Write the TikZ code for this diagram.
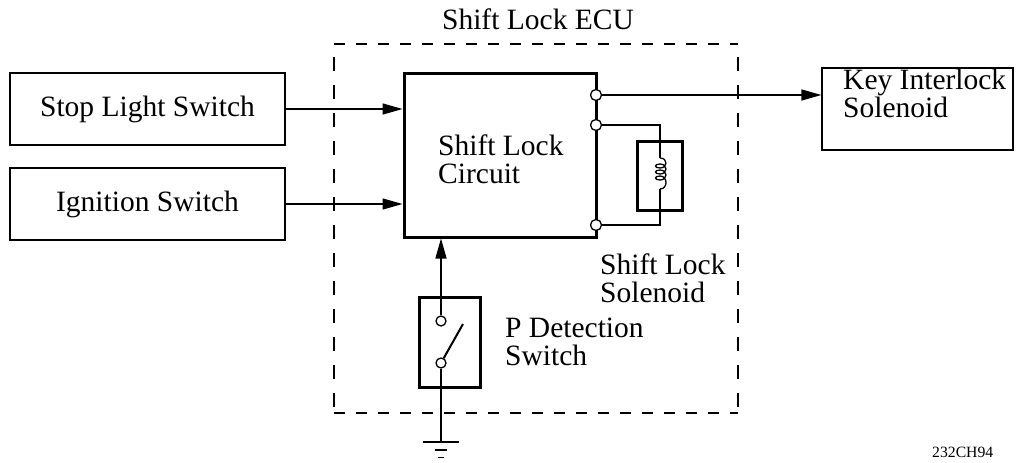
\documentclass[tikz,border=0pt]{standalone}
\usepackage{fontspec}
\setmainfont{Liberation Serif}
\usetikzlibrary{arrows.meta}
\begin{document}
\begin{tikzpicture}[x=1pt,y=-1pt,
  txt/.style={font=\fontsize{29.5}{28}\selectfont, inner sep=0pt, align=left},
  smalltxt/.style={font=\fontsize{15.7}{16}\selectfont, inner sep=0pt},
  thinbox/.style={draw, line width=1.3pt, inner sep=0pt},
  thickbox/.style={draw, line width=3pt, inner sep=0pt},
  wire/.style={line width=1.3pt},
  arr/.style={wire, -{Triangle[length=20pt,width=11pt]}},
  term/.style={circle, draw, line width=1.3pt, fill=white, minimum size=11pt, inner sep=0pt},
  ecu/.style={line width=1.3pt, dash pattern=on 11pt off 11pt}
]
\useasboundingbox (0,0) rectangle (1021,463);
% ECU dashed boundary
\coordinate (e1) at (334,44);
\coordinate (e2) at (738,44);
\coordinate (e3) at (738,413);
\coordinate (e4) at (334,413);
\draw[ecu] (e1) -- (e2);
\draw[ecu] (e4) -- (e3);
\draw[line width=1.3pt, dash pattern=on 14pt off 14pt, dash phase=-13pt] (e1) -- (e4);
\draw[line width=1.3pt, dash pattern=on 14pt off 14pt, dash phase=-13pt] (e2) -- (e3);
\node[txt, anchor=base] (ecuT) at (538,30) {Shift Lock ECU};

% outer boxes
\node[thinbox, minimum width=275pt, minimum height=72pt] (stop) at (147.5,109) {};
\node[txt] at (stop.center) {Stop Light Switch};
\node[thinbox, minimum width=275pt, minimum height=72pt] (ign) at (147.5,204) {};
\node[txt] at (ign.center) {Ignition Switch};
\node[thinbox, minimum width=191pt, minimum height=82pt] (key) at (917.5,109) {};
\node[txt, anchor=base west] (keyT) at (843,117) {Key Interlock\\Solenoid};

% shift lock circuit
\node[thickbox, minimum width=192pt, minimum height=164pt] (slc) at (500,155) {};
\node[txt, anchor=base west] (slcT) at (438,183) {Shift Lock\\Circuit};

% input arrows
\draw[arr] (stop.east |- 0,109) -- (slc.west |- 0,109);
\draw[arr] (ign.east |- 0,204) -- (slc.west |- 0,204);

% terminals on right
\node[term] (t1) at (596,95) {};
\node[term] (t2) at (596,125) {};
\node[term] (t3) at (596,225) {};
\draw[arr] (t1) -- (key.west |- t1);

% shift lock solenoid
\node[thickbox, minimum width=45pt, minimum height=69pt] (sol) at (659.5,175.5) {};
\coordinate (c1) at (660,125);
\coordinate (c2) at (660,225);
\coordinate (k1) at (660,158);
\coordinate (k2) at (660,189);
\draw[wire] (t2) -- (c1) -- (k1);
\draw[wire] (k2) -- (c2) -- (t3);
\draw[wire] (k1) .. controls (668,158) and (668,168) .. (660,168)
  .. controls (654,168) and (654,164) .. (660,164)
  .. controls (668,164) and (668,174) .. (660,174)
  .. controls (654,174) and (654,170) .. (660,170)
  .. controls (668,170) and (668,180) .. (660,180)
  .. controls (654,180) and (654,176) .. (660,176)
  .. controls (668,176) and (668,189) .. (k2);
\node[txt, anchor=base west] (solT) at (600,302) {Shift Lock\\Solenoid};

% P detection switch
\node[thickbox, minimum width=61pt, minimum height=90pt] (psw) at (449.5,342) {};
\node[term, minimum size=10pt] (p1) at (441,321) {};
\node[term, minimum size=10pt] (p2) at (441,363) {};
\coordinate (lev) at (463,324);
\draw[line width=2pt] (p2) -- (lev);
\draw[arr] (p1) -- (slc.south -| p1);
\node[txt, anchor=base west] (pT) at (505,365) {P Detection\\Switch};

% ground
\coordinate (g) at (441,442);
\draw[wire] (p2) -- (g);
\draw[line width=2pt] (423,442) -- (459,442);
\draw[line width=1.5pt] (435,450) -- (447,450);
\draw[line width=1.5pt] (438,457.5) -- (444,457.5);

\node[smalltxt, anchor=base west] (code) at (932,457) {232CH94};
\end{tikzpicture}
\end{document}
